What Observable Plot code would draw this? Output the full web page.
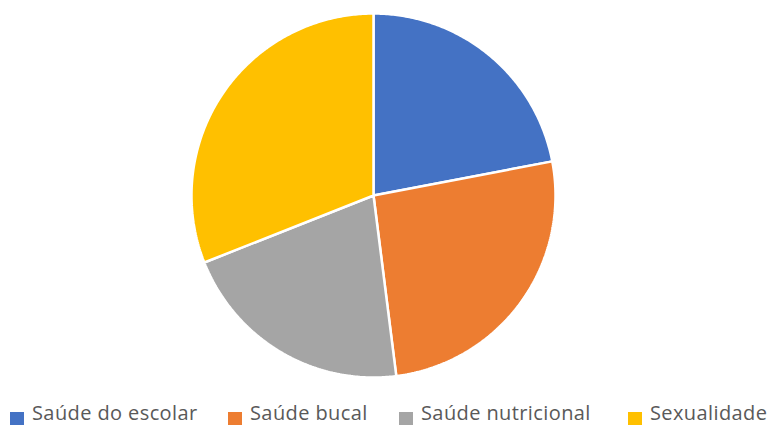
<!DOCTYPE html>
<html><head><meta charset="utf-8">
<script src="https://cdn.jsdelivr.net/npm/d3@7"></script>
<script src="https://cdn.jsdelivr.net/npm/@observablehq/plot@0.6"></script>
<style>
html,body{margin:0;padding:0;background:#fff;overflow:hidden;width:767px;height:427px;}
body{position:relative;}
#chart{position:absolute;left:0;top:0;}
#chart svg{display:block;}
.sw{position:absolute;top:412px;width:14px;height:13px;}
.lbl{position:absolute;top:403px;font-family:"Open Sans",sans-serif;font-size:20px;line-height:20px;letter-spacing:0.4px;color:#595959;white-space:nowrap;}
</style></head>
<body>
<div id="chart"></div>
<script>
const categories = ["Saúde do escolar", "Saúde bucal", "Saúde nutricional", "Sexualidade"];
const values = [22, 26, 21, 31];
const colors = ["#4472C4", "#ED7D31", "#A5A5A5", "#FFC000"];
const legendX = [10, 228, 399, 628];

const total = d3.sum(values);
const pts = [];
let acc = 0;
categories.forEach((c, i) => {
  const a0 = acc / total * 2 * Math.PI;
  acc += values[i];
  const a1 = acc / total * 2 * Math.PI;
  pts.push({c, x: 0, y: 0});
  const n = Math.max(2, Math.ceil((a1 - a0) / 0.01));
  for (let k = 0; k <= n; k++) {
    const a = a0 + (a1 - a0) * k / n;
    pts.push({c, x: Math.sin(a), y: Math.cos(a)});
  }
  pts.push({c, x: 0, y: 0});
});

const plot = Plot.plot({
  width: 767, height: 400,
  marginLeft: 191, marginRight: 212, marginTop: 13, marginBottom: 23,
  x: {domain: [-1, 1], axis: null},
  y: {domain: [-1, 1], axis: null},
  color: {domain: categories, range: colors},
  marks: [
    Plot.line(pts, {x: "x", y: "y", z: "c", fill: "c", stroke: "white", strokeWidth: 2.5, strokeLinejoin: "miter"})
  ]
});
document.getElementById("chart").appendChild(plot);

categories.forEach((c, i) => {
  const s = document.createElement("div");
  s.className = "sw";
  s.style.left = legendX[i] + "px";
  s.style.background = colors[i];
  document.body.appendChild(s);
  const t = document.createElement("div");
  t.className = "lbl";
  t.style.left = (legendX[i] + 22) + "px";
  t.textContent = c;
  document.body.appendChild(t);
});
</script>
</body></html>
